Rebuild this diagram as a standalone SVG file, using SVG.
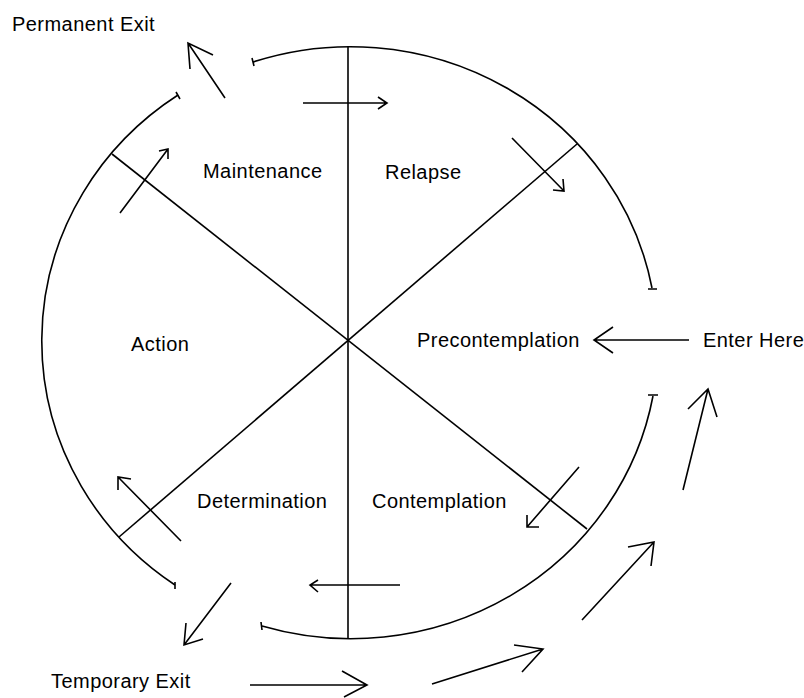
<svg xmlns="http://www.w3.org/2000/svg" width="804" height="698" viewBox="0 0 804 698">
<style>
.ln{fill:none;stroke:#000;stroke-width:1.6;stroke-linecap:butt;stroke-linejoin:miter}
.t{font-family:"Liberation Sans",Arial,sans-serif;font-size:20px;letter-spacing:0.45px;fill:#000}
</style>
<rect width="804" height="698" fill="#fff"/>
<g id="wheel">
<path class="ln" d="M253,62 A307,296 0 0 1 652,288"/>
<path class="ln" d="M653,396 A307,296 0 0 1 262,626"/>
<path class="ln" d="M175,585 A307,296 0 0 1 178,95"/>
<path class="ln" d="M252,58 L254,66 M176,92 L180,99 M648,289 L657,289 M648,395 L658,395 M261,622 L262,630 M175,582 L175,589"/>
<line class="ln" x1="348" y1="46" x2="348" y2="638"/>
<line class="ln" x1="112" y1="154" x2="587" y2="529"/>
<line class="ln" x1="577" y1="144" x2="119" y2="537"/>
</g>
<g id="permanent-exit"><text class="t" x="12" y="31">Permanent Exit</text></g>
<g id="maintenance"><text class="t" x="203" y="178">Maintenance</text></g>
<g id="relapse"><text class="t" x="385" y="179">Relapse</text></g>
<g id="action"><text class="t" x="131" y="351">Action</text></g>
<g id="precontemplation"><text class="t" x="417" y="347">Precontemplation</text></g>
<g id="enter-here"><text class="t" x="703" y="347">Enter Here</text></g>
<g id="determination"><text class="t" x="197" y="508">Determination</text></g>
<g id="contemplation"><text class="t" x="372" y="508">Contemplation</text></g>
<g id="temporary-exit"><text class="t" x="51" y="688">Temporary Exit</text></g>
<g id="connectors">
<path class="ln" d="M303,103 L386,103 M378,97 L387,103 L378,109"/>
<path class="ln" d="M512,138 L564,191 M563,179 L564,191 L553,190"/>
<path class="ln" d="M689,340 L594,340 M613,327 L594,340 L613,353"/>
<path class="ln" d="M683,490 L708,389 M688,409 L708,389 L717,417"/>
<path class="ln" d="M579,467 L527,527 M527,515 L527,527 L539,527"/>
<path class="ln" d="M582,620 L654,542 M628,547 L654,542 L651,566"/>
<path class="ln" d="M432,684 L543,649 M514,645 L543,649 L522,672"/>
<path class="ln" d="M250,685 L367,685 M342,671 L367,685 L344,697"/>
<path class="ln" d="M400,585 L310,585 M318,580 L310,585 L318,592"/>
<path class="ln" d="M231,583 L184,645 M186,623 L184,645 L203,639"/>
<path class="ln" d="M181,541 L118,477 M131,479 L118,477 L118,490"/>
<path class="ln" d="M120,213 L168,149 M159,151 L168,149 L168,159"/>
<path class="ln" d="M225,98 L188,43 M213,55 L188,43 L190,69"/>
</g>
</svg>
